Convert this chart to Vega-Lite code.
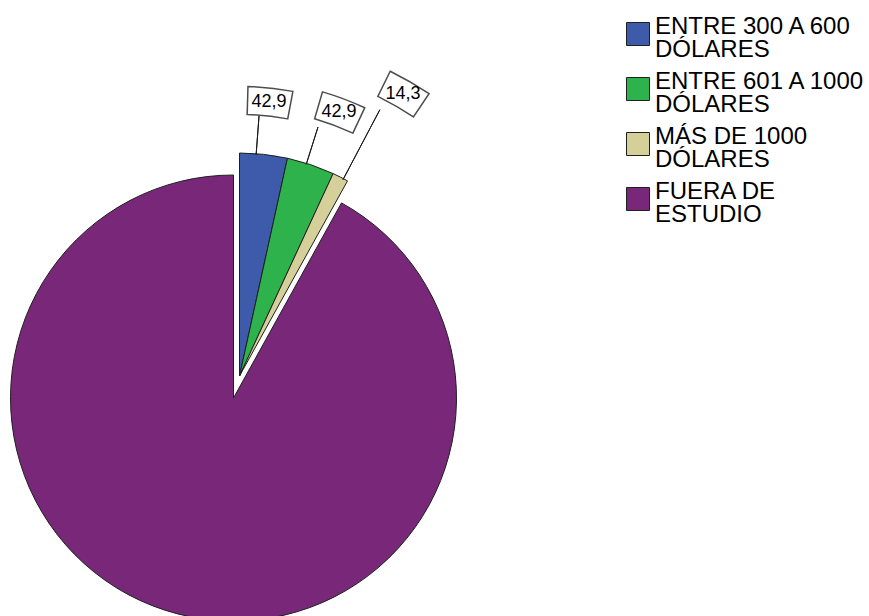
{
  "$schema": "https://vega.github.io/schema/vega-lite/v6.json",
  "width": 467,
  "height": 436,
  "autosize": "none",
  "padding": {"left": 0, "top": 180, "right": 402, "bottom": 0},
  "background": "white",
  "config": {
    "view": {"stroke": null},
    "locale": {"number": {"decimal": ",", "thousands": ".", "grouping": [3], "currency": ["", " €"]}},
    "legend": {"symbolOpacity": 1},
    "style": {"guide-label": {"lineHeight": 23}}
  },
  "data": {
    "values": [
      {"cat": "ENTRE 300 A 600 DÓLARES", "n": 3, "orden": 1, "pct": 42.9},
      {"cat": "ENTRE 601 A 1000 DÓLARES", "n": 3, "orden": 2, "pct": 42.9},
      {"cat": "MÁS DE 1000 DÓLARES", "n": 1, "orden": 3, "pct": 14.3},
      {"cat": "FUERA DE ESTUDIO", "n": 80, "orden": 4, "pct": null}
    ]
  },
  "transform": [
    {"stack": "n", "groupby": [], "sort": [{"field": "orden", "order": "ascending"}], "as": ["n0", "n1"]}
  ],
  "encoding": {
    "theta": {"field": "n0", "type": "quantitative", "scale": {"domain": [0, 87]}}
  },
  "layer": [
    {
      "mark": {"type": "arc", "outerRadius": 223, "stroke": "#1f1f1f", "strokeWidth": 1},
      "encoding": {
        "theta2": {"field": "n1"},
        "color": {
          "field": "cat", "type": "nominal",
          "scale": {
            "domain": ["ENTRE 300 A 600 DÓLARES", "ENTRE 601 A 1000 DÓLARES", "MÁS DE 1000 DÓLARES", "FUERA DE ESTUDIO"],
            "range": ["#3d5aab", "#2eb24b", "#d5cf9a", "#792879"]
          },
          "legend": {
            "title": null, "orient": "none", "legendX": 626, "legendY": -158,
            "symbolType": "square", "symbolSize": 529, "symbolStrokeColor": "#333333", "symbolStrokeWidth": 1,
            "labelFont": "Liberation Sans", "labelFontSize": 24, "labelColor": "#000000", "labelOffset": 5,
            "labelBaseline": "alphabetic",
            "labelLimit": 400, "rowPadding": 8, "padding": 0,
            "labelExpr": "split(replace(replace(datum.label, ' DÓLARES', '|DÓLARES'), ' ESTUDIO', '|ESTUDIO'), '|')"
          }
        },
        "opacity": {"condition": {"test": "datum.orden === 4", "value": 1}, "value": 0}
      }
    },
    {
      "mark": {"type": "arc", "outerRadius": 223, "xOffset": 6, "yOffset": -22, "stroke": "#1f1f1f", "strokeWidth": 1},
      "encoding": {
        "theta2": {"field": "n1"},
        "color": {"field": "cat", "type": "nominal"},
        "opacity": {"condition": {"test": "datum.orden !== 4", "value": 1}, "value": 0}
      }
    },
    {
      "encoding": {"opacity": {"condition": {"test": "datum.orden === 1", "value": 1}, "value": 0}},
      "layer": [
        {"mark": {"type": "arc", "innerRadius": 222, "outerRadius": 261, "thetaOffset": 0.075, "theta2Offset": 0.075, "xOffset": 6, "yOffset": -22, "fillOpacity": 0, "stroke": "#1a1a1a", "strokeWidth": 1},
         "encoding": {"theta2": {"field": "n0"}}},
        {"mark": {"type": "arc", "innerRadius": 261.6, "outerRadius": 289.6, "thetaOffset": 0.0293, "theta2Offset": 0.1854, "xOffset": 6, "yOffset": -22, "fill": "white", "stroke": "#4d4d4d", "strokeWidth": 1.5},
         "encoding": {"theta2": {"field": "n0"}}},
        {"mark": {"type": "text", "radius": 275.6, "thetaOffset": 0.1073, "xOffset": 6, "yOffset": -22, "font": "Liberation Sans", "fontSize": 18, "align": "center", "baseline": "middle", "color": "#000000"},
         "encoding": {"text": {"field": "pct", "type": "quantitative", "format": ".1f"}}}
      ]
    },
    {
      "encoding": {"opacity": {"condition": {"test": "datum.orden === 2", "value": 1}, "value": 0}},
      "layer": [
        {"mark": {"type": "arc", "innerRadius": 222, "outerRadius": 261, "thetaOffset": 0.0888, "theta2Offset": 0.0888, "xOffset": 6, "yOffset": -22, "fillOpacity": 0, "stroke": "#1a1a1a", "strokeWidth": 1},
         "encoding": {"theta2": {"field": "n0"}}},
        {"mark": {"type": "arc", "innerRadius": 268, "outerRadius": 296, "thetaOffset": 0.0675, "theta2Offset": 0.2201, "xOffset": 6, "yOffset": -22, "fill": "white", "stroke": "#4d4d4d", "strokeWidth": 1.5},
         "encoding": {"theta2": {"field": "n0"}}},
        {"mark": {"type": "text", "radius": 282, "thetaOffset": 0.1438, "xOffset": 6, "yOffset": -22, "font": "Liberation Sans", "fontSize": 18, "align": "center", "baseline": "middle", "color": "#000000"},
         "encoding": {"text": {"field": "pct", "type": "quantitative", "format": ".1f"}}}
      ]
    },
    {
      "encoding": {"opacity": {"condition": {"test": "datum.orden === 3", "value": 1}, "value": 0}},
      "layer": [
        {"mark": {"type": "arc", "innerRadius": 222, "outerRadius": 301, "thetaOffset": 0.0518, "theta2Offset": 0.0518, "xOffset": 6, "yOffset": -22, "fillOpacity": 0, "stroke": "#1a1a1a", "strokeWidth": 1},
         "encoding": {"theta2": {"field": "n0"}}},
        {"mark": {"type": "arc", "innerRadius": 312, "outerRadius": 340, "thetaOffset": 0.026, "theta2Offset": 0.158, "xOffset": 6, "yOffset": -22, "fill": "white", "stroke": "#4d4d4d", "strokeWidth": 1.5},
         "encoding": {"theta2": {"field": "n0"}}},
        {"mark": {"type": "text", "radius": 326, "thetaOffset": 0.092, "xOffset": 6, "yOffset": -22, "font": "Liberation Sans", "fontSize": 18, "align": "center", "baseline": "middle", "color": "#000000"},
         "encoding": {"text": {"field": "pct", "type": "quantitative", "format": ".1f"}}}
      ]
    }
  ]
}
